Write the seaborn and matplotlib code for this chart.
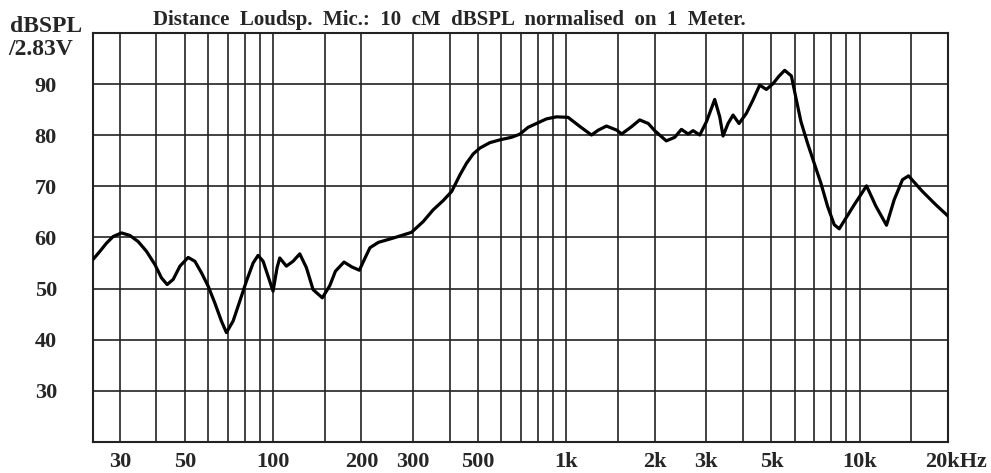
import matplotlib
matplotlib.use('Agg')
import matplotlib.pyplot as plt
import matplotlib.ticker as mticker
import matplotlib.transforms as mtransforms
import seaborn as sns
from pandas import DataFrame as pdDataFrame

# response curve (Hz, dB SPL)
freq_hz = [24.3, 25.66, 27.02, 28.48, 30.4, 32.46, 34.65, 36.98, 39.52, 41.6,
           43.5, 45.6, 48.1, 51.3, 54.07, 56.94, 60.0, 63.24, 66.6, 69.27,
           73.0, 76.94, 81.04, 85.4, 88.8, 92.4, 96.1, 99.9, 103.1, 105.3,
           110.9, 116.9, 123.2, 129.8, 136.8, 147.1, 156, 163, 174.4, 185.3,
           196.7, 205.7, 213.8, 228.4, 250, 263.7, 296, 325.2, 351, 380.3,
           406, 433.4, 456, 481, 507, 548, 593, 649.4, 693, 740,
           790, 855, 925, 1013, 1112, 1217, 1284, 1369, 1484, 1543,
           1669, 1777, 1901, 1999, 2190, 2340, 2466, 2598, 2703, 2848,
           3002, 3203, 3332, 3420, 3556, 3699, 3876, 4108, 4326, 4560,
           4805, 5063, 5306, 5548, 5848, 6081, 6305, 6642, 6998, 7375,
           7769, 8188, 8515, 8974, 9578, 10550, 11360, 12340, 13110, 13990,
           14670, 16370, 18180, 20000]
spl_db = [55.7, 57.3, 58.9, 60.2, 60.9, 60.4, 59.2, 57.3, 54.7, 52.1,
          50.8, 51.8, 54.4, 56.1, 55.35, 53.1, 50.5, 47.2, 43.65, 41.4,
          43.65, 47.55, 51.45, 55.0, 56.5, 55.35, 52.4, 49.5, 54.1, 56.0,
          54.4, 55.35, 56.8, 54.1, 49.8, 48.2, 50.6, 53.4, 55.2, 54.25,
          53.6, 56.0, 58.0, 59.05, 59.7, 60.1, 61.0, 63.15, 65.4, 67.25,
          69.0, 72.25, 74.5, 76.35, 77.5, 78.55, 79.1, 79.6, 80.2, 81.55,
          82.3, 83.2, 83.6, 83.5, 81.7, 80.05, 81.0, 81.8, 81.0, 80.25,
          81.7, 83.0, 82.3, 80.9, 78.9, 79.6, 81.15, 80.25, 80.9, 80.05,
          82.65, 87.0, 83.6, 79.85, 82.3, 83.95, 82.3, 84.3, 86.9, 89.8,
          88.96, 90.1, 91.56, 92.7, 91.6, 86.9, 82.65, 78.4, 74.5, 70.6,
          66.1, 62.5, 61.7, 63.8, 66.4, 70.1, 66.1, 62.4, 67.4, 71.3,
          72.06, 69.0, 66.4, 64.2]

grid_freqs = [30, 40, 50, 60, 70, 80, 90, 100, 150, 200, 300, 400, 500, 600, 700,
              800, 900, 1000, 1500, 2000, 3000, 4000, 5000, 6000, 7000, 8000, 9000,
              10000, 15000]
label_freqs = [30, 50, 100, 200, 300, 500, 1000, 2000, 3000, 5000, 10000, 20000]
label_texts = ['30', '50', '100', '200', '300', '500', '1k', '2k', '3k', '5k', '10k', '20kHz']
y_ticks = [30, 40, 50, 60, 70, 80, 90]

sns.set_style('white')
plt.rcParams['font.family'] = ['Liberation Serif', 'DejaVu Serif']

fig = plt.figure(figsize=(9.91, 4.73), dpi=100)
ax = fig.add_axes([93 / 991, 31 / 473, 855 / 991, 409 / 473])

df = pdDataFrame({'f': freq_hz, 'db': spl_db})
sns.lineplot(data=df, x='f', y='db', ax=ax, color='black', linewidth=2.3,
             zorder=5, sort=False)

ax.set_xscale('log')
ax.set_xlim(24.3, 20000)
ax.set_ylim(20, 100)

ax.set_xticks(label_freqs)
ax.set_xticklabels(label_texts)
ax.set_xticks(grid_freqs, minor=True)
ax.xaxis.set_minor_formatter(mticker.NullFormatter())
ax.set_yticks(y_ticks)
ax.set_yticklabels([str(v) for v in y_ticks])
ax.grid(True, which='both', color='#222222', linewidth=1.2)
ax.tick_params(axis='both', which='both', length=0, labelsize=16)
ax.tick_params(axis='x', pad=7)
ax.tick_params(axis='y', pad=26)
for lbl in ax.get_xticklabels() + ax.get_yticklabels():
    lbl.set_fontweight('bold')
for spine in ax.spines.values():
    spine.set_color('#222222')
    spine.set_linewidth(1.5)
ax.set_xlabel('')
ax.set_ylabel('')

# "20kHz": keep "20k" near the right edge
last = ax.get_xticklabels()[-1]
last.set_transform(last.get_transform()
                   + mtransforms.ScaledTranslation(8 / 100, 0, fig.dpi_scale_trans))

fig.text(10 / 991, 1 - 32 / 473, 'dBSPL', fontsize=17, fontweight='bold', va='baseline')
fig.text(8 / 991, 1 - 55 / 473, '/2.83V', fontsize=17, fontweight='bold', va='baseline')
fig.text(153 / 991, 1 - 25 / 473,
         'Distance  Loudsp.  Mic.:  10  cM  dBSPL  normalised  on  1  Meter.',
         fontsize=15, fontweight='bold', va='baseline')

plt.savefig('out.png', dpi=100)
plt.close('all')
